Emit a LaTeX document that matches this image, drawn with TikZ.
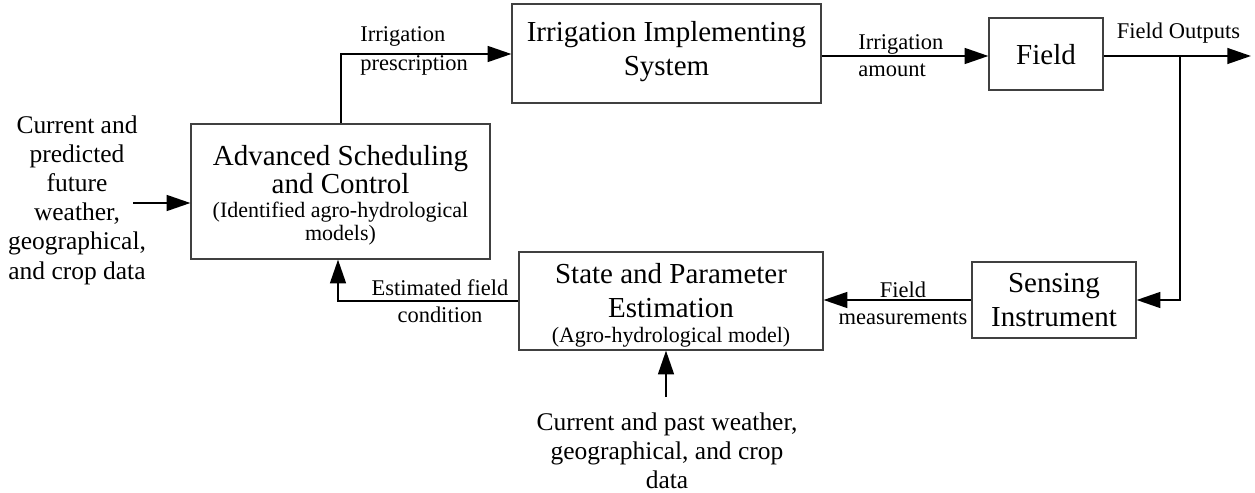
\documentclass[tikz,border=0pt]{standalone}
\usepackage{fontspec}
\setmainfont{Liberation Serif}
\usetikzlibrary{arrows.meta}
\begin{document}
\begin{tikzpicture}[x=0.02cm,y=-0.02cm,
  box/.style={draw=black!75, line width=0.7pt, inner sep=0pt},
  conn/.style={line width=1.1pt, -{Triangle[length=13.5pt,width=9pt]}},
  wire/.style={line width=1.1pt},
  big/.style={font=\fontsize{16.5}{19.3}\selectfont, align=center, inner sep=0pt},
  bigt/.style={font=\fontsize{16.5}{16}\selectfont, align=center, inner sep=0pt},
  sub/.style={font=\fontsize{12.5}{13}\selectfont, align=center, inner sep=0pt},
  lbl/.style={font=\fontsize{12.8}{16}\selectfont, inner sep=0pt},
  inp/.style={font=\fontsize{14.5}{16.6}\selectfont, align=center, inner sep=0pt}]
\useasboundingbox (0,0) rectangle (1255,493);

% boxes
\node[box, minimum width=5.98cm, minimum height=2.70cm] (adv) at (340.5,191.5) {};
\node[box, minimum width=6.18cm, minimum height=1.98cm] (irr) at (666.5,53.5) {};
\node[box, minimum width=2.28cm, minimum height=1.44cm] (field) at (1046,54) {};
\node[box, minimum width=6.08cm, minimum height=1.96cm] (est) at (671,301) {};
\node[box, minimum width=3.28cm, minimum height=1.52cm] (sens) at (1054,300) {};

% box texts
\node[bigt] (advT) at (340.5,170) {Advanced Scheduling\\and Control};
\node[sub] (advS) at (340.5,224) {(Identified agro-hydrological\\models)};
\node[big] (irrT) at (666.5,52) {Irrigation Implementing\\System};
\node[big] (fieldT) at (1046,55) {Field};
\node[big] (estT) at (671,291) {State and Parameter\\Estimation};
\node[sub] (estS) at (671,337) {(Agro-hydrological model)};
\node[big] (sensT) at (1054,300) {Sensing\\Instrument};

% inputs
\node[inp] (inTxt) at (77,200) {Current and\\predicted\\future\\weather,\\geographical,\\and crop data};
\node[inp] (botTxt) at (667,451) {Current and past weather,\\geographical, and crop\\data};

% connector labels
\node[lbl, align=left, anchor=west, font=\fontsize{12.8}{17}\selectfont] (lPres) at (360,51) {Irrigation\\prescription};
\node[lbl, align=left, anchor=west, font=\fontsize{12.8}{15.4}\selectfont] (lAmt) at (858,56) {Irrigation\\amount};
\node[lbl] (lOut) at (1178.5,33) {Field Outputs};
\node[lbl, align=center, font=\fontsize{12.8}{15.4}\selectfont] (lEst) at (440,301) {Estimated field\\condition};
\node[lbl, align=center, font=\fontsize{12.8}{15.4}\selectfont] (lMeas) at (903,303) {Field\\measurements};

% coordinates
\coordinate (inL) at (133,203);
\coordinate (p1) at (341,54);
\coordinate (yl) at (0,56);
\coordinate (outEnd) at (1251,56);
\coordinate (tap) at (1180,56);
\coordinate (ef) at (338,0);
\coordinate (bIn) at (666,397);

% connectors
\draw[conn] (inL) -- (inL -| adv.west);
\draw[conn] (p1 |- adv.north) -- (p1) -- (p1 -| irr.west);
\draw[conn] (irr.east |- yl) -- (field.west |- yl);
\draw[conn] (field.east |- yl) -- (outEnd);
\draw[conn] (tap) -- (tap |- sens.east) -- (sens.east);
\draw[conn] (sens.west) -- (sens.west -| est.east);
\draw[conn] (est.west) -- (est.west -| ef) -- (ef |- adv.south);
\draw[conn] (bIn) -- (bIn |- est.south);
\end{tikzpicture}
\end{document}
